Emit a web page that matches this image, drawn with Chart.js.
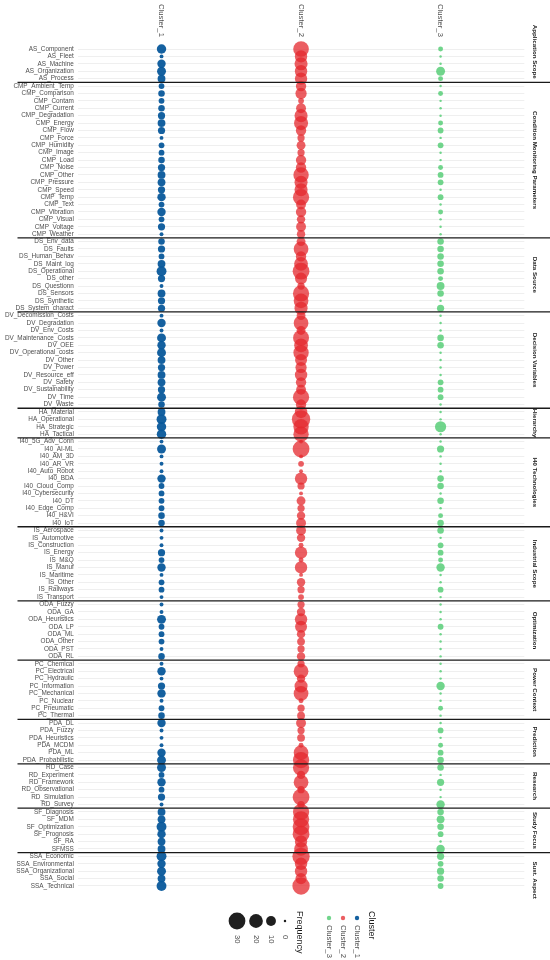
<!DOCTYPE html>
<html>
<head>
<meta charset="utf-8">
<script src="https://cdn.jsdelivr.net/npm/chart.js@4"></script>
<style>
  html, body { margin: 0; padding: 0; background: #fff; }
  #wrap { width: 550px; height: 960px; position: relative; }
</style>
</head>
<body>
<div id="wrap"><canvas id="bubbleChart"></canvas></div>
<script>
// Clusters (x) and categories (y), grouped in blocks
const CLUSTERS = ['Cluster_1', 'Cluster_2', 'Cluster_3'];
const GROUPS = ['Application Scope', 'Condition Monitoring Parameters', 'Data Source', 'Decision Variables',
    'Hierarchy', 'I40 Technologies', 'Industrial Scope', 'Optimization', 'Power Context', 'Prediction',
    'Research', 'Study Focus', 'Sust. Aspect'];
const GROUP_SIZES = [5, 21, 10, 13, 4, 12, 10, 8, 8, 6, 6, 6, 5];

const CATEGORIES = [
    'AS_Component', 'AS_Fleet', 'AS_Machine', 'AS_Organization', 'AS_Process',
    'CMP_Ambient_Temp', 'CMP_Comparison', 'CMP_Contam', 'CMP_Current', 'CMP_Degradation', 'CMP_Energy',
    'CMP_Flow', 'CMP_Force', 'CMP_Humidity', 'CMP_Image', 'CMP_Load', 'CMP_Noise', 'CMP_Other',
    'CMP_Pressure', 'CMP_Speed', 'CMP_Temp', 'CMP_Text', 'CMP_Vibration', 'CMP_Visual', 'CMP_Voltage', 'CMP_Weather',
    'DS_Env_data', 'DS_Faults', 'DS_Human_Behav', 'DS_Maint_log', 'DS_Operational', 'DS_other',
    'DS_Questionn', 'DS_Sensors', 'DS_Synthetic', 'DS_System_charact',
    'DV_Decomission_Costs', 'DV_Degradation', 'DV_Env_Costs', 'DV_Maintenance_Costs', 'DV_OEE',
    'DV_Operational_costs', 'DV_Other', 'DV_Power', 'DV_Resource_eff', 'DV_Safety', 'DV_Sustainability',
    'DV_Time', 'DV_Waste',
    'HA_Material', 'HA_Operational', 'HA_Strategic', 'HA_Tactical',
    'I40_5G_Adv_Conn', 'I40_AI-ML', 'I40_AM_3D', 'I40_AR_VR', 'I40_Auto_Robot', 'I40_BDA', 'I40_Cloud_Comp',
    'I40_Cybersecurity', 'I40_DT', 'I40_Edge_Comp', 'I40_H&VI', 'I40_IoT',
    'IS_Aerospace', 'IS_Automotive', 'IS_Construction', 'IS_Energy', 'IS_M&Q', 'IS_Manuf', 'IS_Maritime',
    'IS_Other', 'IS_Railways', 'IS_Transport',
    'ODA_Fuzzy', 'ODA_GA', 'ODA_Heuristics', 'ODA_LP', 'ODA_ML', 'ODA_Other', 'ODA_PST', 'ODA_RL',
    'PC_Chemical', 'PC_Electrical', 'PC_Hydraulic', 'PC_Information', 'PC_Mechanical', 'PC_Nuclear',
    'PC_Pneumatic', 'PC_Thermal',
    'PDA_DL', 'PDA_Fuzzy', 'PDA_Heuristics', 'PDA_MCDM', 'PDA_ML', 'PDA_Probabilistic',
    'RD_Case', 'RD_Experiment', 'RD_Framework', 'RD_Observational', 'RD_Simulation', 'RD_Survey',
    'SF_Diagnosis', 'SF_MDM', 'SF_Optimization', 'SF_Prognosis', 'SF_RA', 'SFMSS',
    'SSA_Economic', 'SSA_Environmental', 'SSA_Organizational', 'SSA_Social', 'SSA_Technical'
];

// Frequency per category, one list per cluster (same order as CATEGORIES)
const FREQ_C1 = [
    9, 1, 7, 8, 6,
    3, 4, 3, 4, 5, 6, 5, 1, 3, 3, 4, 5, 6, 6, 5, 7, 3, 7, 3, 5, 1,
    4, 5, 3, 6, 10, 5, 1, 6, 5, 5,
    1, 7, 1, 8, 7, 8, 6, 5, 6, 6, 5, 8, 4,
    6, 10, 9, 9,
    1, 8, 1, 1, 1, 7, 3, 3, 3, 3, 4, 4,
    1, 1, 1, 5, 3, 7, 1, 3, 3, 1,
    1, 1, 8, 3, 3, 3, 1, 4,
    1, 7, 1, 5, 7, 1, 3, 4,
    7, 1, 1, 1, 7, 8,
    8, 3, 7, 3, 5, 1,
    6, 6, 10, 7, 6, 6,
    10, 7, 8, 6, 10
];
const FREQ_C2 = [
    26, 16, 18, 16, 16,
    11, 13, 3, 10, 18, 21, 11, 5, 8, 5, 11, 11, 25, 18, 18, 28, 10, 11, 7, 10, 7,
    8, 23, 11, 20, 30, 15, 5, 28, 23, 18,
    8, 23, 8, 27, 20, 25, 15, 13, 16, 11, 10, 28, 11,
    16, 36, 25, 25,
    1, 30, 1, 3, 1, 16, 5, 1, 8, 5, 7, 10,
    10, 7, 2, 16, 2, 16, 1, 7, 5, 3,
    5, 7, 16, 15, 7, 6, 5, 7,
    5, 23, 7, 18, 23, 2, 5, 6,
    10, 5, 6, 2, 23, 28,
    28, 7, 23, 5, 30, 5,
    28, 28, 30, 30, 16, 20,
    32, 16, 16, 13, 32
];
const FREQ_C3 = [
    2, 0, 0, 8, 2,
    0, 2, 0, 0, 0, 2, 3, 0, 3, 0, 0, 2, 3, 3, 0, 3, 0, 2, 0, 0, 0,
    4, 4, 4, 4, 4, 2, 6, 4, 0, 5,
    0, 0, 0, 4, 4, 0, 0, 0, 0, 3, 3, 3, 0,
    0, 0, 13, 0,
    0, 5, 0, 0, 0, 4, 4, 0, 4, 0, 2, 4,
    4, 0, 3, 3, 2, 7, 0, 0, 3, 0,
    0, 0, 0, 3, 0, 0, 0, 0,
    0, 0, 0, 7, 0, 0, 2, 0,
    0, 3, 0, 2, 3, 4,
    4, 0, 5, 0, 0, 7,
    4, 6, 4, 3, 0, 7,
    5, 3, 5, 4, 3
];
const SIZE_BREAKS = [30, 20, 10, 0];

const FONT = '"Liberation Sans", Arial, sans-serif';
const COLORS = ['rgba(8,88,155,0.95)', 'rgba(228,40,46,0.75)', 'rgba(88,206,120,0.85)'];
const GREY = '#4d4d4d';

// area-like size scale (px radius)
const sizeOf = f => Math.sqrt(1.5 + 2.3 * f);

function makeData(freqs, clusterIdx) {
    return CATEGORIES.map((c, i) => ({ x: clusterIdx + 1, y: c, r: sizeOf(freqs[i]) }));
}

function rotText(ctx, txt, x, y, font, color) {
    ctx.save();
    ctx.translate(x, y);
    ctx.rotate(Math.PI / 2);
    ctx.font = font;
    ctx.fillStyle = color;
    ctx.textAlign = 'left';
    ctx.textBaseline = 'middle';
    ctx.fillText(txt, 0, 0);
    ctx.restore();
}

const decorPlugin = {
    id: 'decor',
    afterDatasetsDraw(chart) {
        const ctx = chart.ctx;
        const xs = chart.scales.x, ys = chart.scales.y;

        // group separators + group names on the right
        let start = 0;
        GROUPS.forEach((g, gi) => {
            const end = start + GROUP_SIZES[gi] - 1;
            if (gi > 0) {
                const y = (ys.getPixelForValue(start - 1) + ys.getPixelForValue(start)) / 2;
                ctx.save();
                ctx.strokeStyle = '#1a1a1a';
                ctx.lineWidth = 1.3;
                ctx.beginPath();
                ctx.moveTo(17.5, y);
                ctx.lineTo(550, y);
                ctx.stroke();
                ctx.restore();
            }
            let cy = (ys.getPixelForValue(start) + ys.getPixelForValue(end)) / 2;
            if (gi === 0) cy -= 12;
            if (gi === GROUPS.length - 1) cy += 9;
            const font = 'bold 6.2px ' + FONT;
            ctx.save();
            ctx.font = font;
            const w = ctx.measureText(g).width;
            ctx.restore();
            rotText(ctx, g, 535, cy - w / 2, font, '#1a1a1a');
            start = end + 1;
        });

        // cluster names on top
        CLUSTERS.forEach((c, i) => {
            rotText(ctx, c, xs.getPixelForValue(i + 1), 4, '7.7px ' + FONT, GREY);
        });

        // legend (rotated, like the reference)
        rotText(ctx, 'Frequency', 299, 911, '9px ' + FONT, '#1a1a1a');
        const sizeX = [237, 256, 271, 285];
        SIZE_BREAKS.forEach((b, i) => {
            ctx.save();
            ctx.fillStyle = '#1f1f1f';
            ctx.beginPath();
            ctx.arc(sizeX[i], 921, sizeOf(b), 0, Math.PI * 2);
            ctx.fill();
            ctx.restore();
            rotText(ctx, String(b), sizeX[i], 935, '7.7px ' + FONT, GREY);
        });
        rotText(ctx, 'Cluster', 371, 911, '9px ' + FONT, '#1a1a1a');
        const keyX = [357, 343, 329];
        CLUSTERS.forEach((c, i) => {
            ctx.save();
            ctx.fillStyle = COLORS[i];
            ctx.beginPath();
            ctx.arc(keyX[i], 918, 2.2, 0, Math.PI * 2);
            ctx.fill();
            ctx.restore();
            rotText(ctx, c, keyX[i], 925, '7.7px ' + FONT, GREY);
        });
    }
};

new Chart(document.getElementById('bubbleChart'), {
    type: 'bubble',
    data: {
        datasets: [FREQ_C1, FREQ_C2, FREQ_C3].map((f, i) => ({
            label: CLUSTERS[i],
            data: makeData(f, i),
            backgroundColor: COLORS[i],
            borderWidth: 0,
            hoverBorderWidth: 0,
        }))
    },
    options: {
        responsive: true,
        maintainAspectRatio: false,
        animation: false,
        layout: { padding: { top: 45.3, bottom: 70.3, left: 0, right: 25.7 } },
        plugins: { legend: { display: false }, tooltip: { enabled: false } },
        scales: {
            x: { type: 'linear', min: 0.4, max: 3.6, display: false },
            y: {
                type: 'category',
                labels: CATEGORIES,
                offset: true,
                border: { display: false },
                grid: { offset: false, color: '#ebebeb', lineWidth: 0.8, drawTicks: false },
                ticks: {
                    autoSkip: false,
                    padding: 4,
                    color: GREY,
                    font: { size: 6.4, family: FONT }
                },
                afterFit: s => { s.width = 77.8; }
            }
        }
    },
    plugins: [decorPlugin]
});
</script>
</body>
</html>
